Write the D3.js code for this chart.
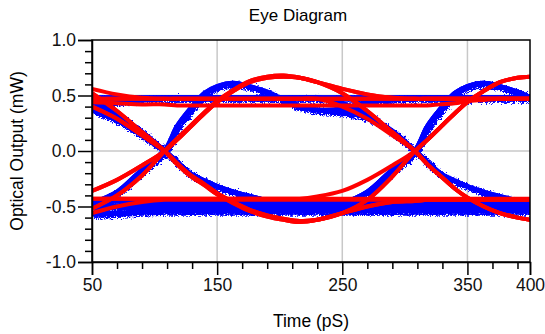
<!DOCTYPE html>
<html>
<head>
<meta charset="utf-8">
<script src="https://cdn.jsdelivr.net/npm/d3@7/dist/d3.min.js"></script>
<style>
  body { margin: 0; background: #fff; }
  svg { display: block; font-family: "Liberation Sans", Arial, sans-serif; }
  .axis path, .axis line { stroke: #000; stroke-width: 1.5; }
  .axis text { font-size: 17.5px; fill: #111; }
  .grid line { stroke: #c8c8c8; stroke-width: 1.5; }
</style>
</head>
<body>
<svg id="chart" width="545" height="334"></svg>
<script>
// sample times (pS) shared by every trace
const times = [50, 70, 90, 108, 118, 128, 140, 150, 163, 176, 190, 203, 216, 230, 250, 270, 290, 308, 318, 328, 340, 350, 363, 376, 390, 400];

// blue (noisy) traces, mW, one value per sample time
const blueRiseHold  = [-0.47, -0.37, -0.17, 0, 0.22, 0.37, 0.52, 0.58, 0.61, 0.58, 0.53, 0.46, 0.40, 0.37, 0.38, 0.44, 0.47, 0.48, 0.48, 0.48, 0.48, 0.48, 0.48, 0.48, 0.48, 0.48];
const blueRiseFall  = [-0.47, -0.37, -0.17, 0, 0.22, 0.37, 0.52, 0.58, 0.61, 0.58, 0.53, 0.46, 0.40, 0.37, 0.35, 0.30, 0.18, 0, -0.10, -0.20, -0.27, -0.32, -0.37, -0.41, -0.45, -0.47];
const blueFallHold  = [0.43, 0.33, 0.17, 0, -0.10, -0.20, -0.27, -0.32, -0.37, -0.41, -0.45, -0.48, -0.50, -0.50, -0.50, -0.50, -0.50, -0.50, -0.50, -0.50, -0.50, -0.50, -0.50, -0.50, -0.50, -0.50];
const blueFallRise  = [0.43, 0.33, 0.17, 0, -0.10, -0.20, -0.27, -0.32, -0.37, -0.41, -0.45, -0.48, -0.50, -0.50, -0.47, -0.37, -0.17, 0, 0.22, 0.37, 0.52, 0.58, 0.61, 0.58, 0.53, 0.48];
const bluePulseHold = [0.37, 0.28, 0.14, 0, -0.10, -0.20, -0.27, -0.32, -0.37, -0.41, -0.45, -0.48, -0.50, -0.50, -0.50, -0.50, -0.50, -0.50, -0.50, -0.50, -0.50, -0.50, -0.50, -0.50, -0.50, -0.50];
const bluePulseRise = [0.37, 0.28, 0.14, 0, -0.10, -0.20, -0.27, -0.32, -0.37, -0.41, -0.45, -0.48, -0.50, -0.50, -0.47, -0.37, -0.17, 0, 0.22, 0.37, 0.52, 0.58, 0.61, 0.58, 0.53, 0.48];
const blueHigh      = [0.48, 0.48, 0.48, 0.48, 0.48, 0.48, 0.48, 0.48, 0.48, 0.48, 0.48, 0.48, 0.48, 0.48, 0.48, 0.48, 0.48, 0.48, 0.48, 0.48, 0.48, 0.48, 0.48, 0.48, 0.48, 0.48];
const blueUnderHigh = [0.38, 0.44, 0.47, 0.48, 0.48, 0.48, 0.48, 0.48, 0.48, 0.48, 0.48, 0.48, 0.48, 0.48, 0.48, 0.48, 0.48, 0.48, 0.48, 0.48, 0.48, 0.48, 0.48, 0.48, 0.48, 0.48];
const blueHighFall  = [0.48, 0.48, 0.48, 0.48, 0.48, 0.48, 0.48, 0.48, 0.48, 0.48, 0.48, 0.48, 0.48, 0.48, 0.43, 0.33, 0.17, 0, -0.10, -0.20, -0.27, -0.32, -0.37, -0.41, -0.45, -0.47];
const blueLow       = [-0.50, -0.50, -0.50, -0.50, -0.50, -0.50, -0.50, -0.50, -0.50, -0.50, -0.50, -0.50, -0.50, -0.50, -0.50, -0.50, -0.50, -0.50, -0.50, -0.50, -0.50, -0.50, -0.50, -0.50, -0.50, -0.50];
const blueLowUpper  = [-0.45, -0.45, -0.46, -0.46, -0.46, -0.46, -0.46, -0.46, -0.46, -0.46, -0.46, -0.46, -0.46, -0.46, -0.46, -0.46, -0.46, -0.46, -0.46, -0.46, -0.46, -0.46, -0.46, -0.46, -0.46, -0.46];
const blueLowLower  = [-0.57, -0.56, -0.55, -0.54, -0.54, -0.54, -0.54, -0.54, -0.54, -0.54, -0.54, -0.54, -0.54, -0.54, -0.54, -0.54, -0.54, -0.54, -0.54, -0.54, -0.54, -0.54, -0.54, -0.54, -0.54, -0.54];
const blueLowRise   = [-0.50, -0.50, -0.50, -0.50, -0.50, -0.50, -0.50, -0.50, -0.50, -0.50, -0.50, -0.50, -0.50, -0.50, -0.47, -0.37, -0.17, 0, 0.22, 0.37, 0.52, 0.58, 0.61, 0.58, 0.53, 0.48];

// red (smooth) traces
const redRiseHold      = [-0.36, -0.26, -0.13, 0, 0.10, 0.21, 0.34, 0.44, 0.54, 0.62, 0.66, 0.67, 0.66, 0.62, 0.56, 0.51, 0.48, 0.47, 0.47, 0.47, 0.47, 0.47, 0.47, 0.47, 0.47, 0.47];
const redRiseFall      = [-0.36, -0.26, -0.13, 0, 0.10, 0.21, 0.34, 0.44, 0.54, 0.62, 0.66, 0.67, 0.66, 0.62, 0.52, 0.36, 0.17, 0, -0.12, -0.22, -0.34, -0.42, -0.50, -0.56, -0.60, -0.62];
const redUnderRiseHold = [-0.52, -0.40, -0.22, 0, 0.11, 0.22, 0.35, 0.45, 0.55, 0.63, 0.67, 0.68, 0.66, 0.62, 0.56, 0.51, 0.48, 0.47, 0.47, 0.47, 0.47, 0.47, 0.47, 0.47, 0.47, 0.47];
const redUnderRiseFall = [-0.52, -0.40, -0.22, 0, 0.11, 0.22, 0.35, 0.45, 0.55, 0.63, 0.67, 0.68, 0.66, 0.62, 0.52, 0.36, 0.17, 0, -0.12, -0.22, -0.34, -0.42, -0.50, -0.56, -0.60, -0.62];
const redFallHold      = [0.40, 0.29, 0.14, 0, -0.11, -0.21, -0.30, -0.38, -0.46, -0.53, -0.58, -0.61, -0.63, -0.62, -0.56, -0.50, -0.46, -0.45, -0.44, -0.44, -0.44, -0.44, -0.44, -0.44, -0.44, -0.44];
const redFallRise      = [0.40, 0.29, 0.14, 0, -0.11, -0.21, -0.30, -0.38, -0.46, -0.53, -0.58, -0.61, -0.63, -0.62, -0.56, -0.44, -0.23, 0, 0.10, 0.21, 0.34, 0.44, 0.54, 0.62, 0.66, 0.67];
const redOverFallHold  = [0.52, 0.36, 0.17, 0, -0.12, -0.22, -0.31, -0.39, -0.47, -0.54, -0.59, -0.62, -0.64, -0.62, -0.56, -0.50, -0.46, -0.45, -0.44, -0.44, -0.44, -0.44, -0.44, -0.44, -0.44, -0.44];
const redOverFallRise  = [0.52, 0.36, 0.17, 0, -0.12, -0.22, -0.31, -0.39, -0.47, -0.54, -0.59, -0.62, -0.64, -0.62, -0.56, -0.44, -0.23, 0, 0.10, 0.21, 0.34, 0.44, 0.54, 0.62, 0.66, 0.67];
const redHigh          = [0.47, 0.47, 0.47, 0.47, 0.47, 0.47, 0.47, 0.47, 0.47, 0.47, 0.47, 0.47, 0.47, 0.47, 0.47, 0.47, 0.47, 0.47, 0.47, 0.47, 0.47, 0.47, 0.47, 0.47, 0.47, 0.47];
const redDecayHigh     = [0.56, 0.51, 0.48, 0.47, 0.47, 0.47, 0.47, 0.47, 0.47, 0.47, 0.47, 0.47, 0.47, 0.47, 0.47, 0.47, 0.47, 0.47, 0.47, 0.47, 0.47, 0.47, 0.47, 0.47, 0.47, 0.47];
const redHighFall      = [0.47, 0.47, 0.47, 0.47, 0.47, 0.47, 0.47, 0.47, 0.47, 0.47, 0.47, 0.47, 0.47, 0.47, 0.40, 0.29, 0.14, 0, -0.12, -0.22, -0.34, -0.42, -0.50, -0.56, -0.60, -0.62];
const redLow           = [-0.43, -0.43, -0.43, -0.43, -0.43, -0.43, -0.43, -0.43, -0.43, -0.43, -0.43, -0.43, -0.43, -0.43, -0.43, -0.43, -0.43, -0.43, -0.43, -0.43, -0.43, -0.43, -0.43, -0.43, -0.43, -0.43];
const redDecayLow      = [-0.56, -0.50, -0.46, -0.44, -0.44, -0.44, -0.44, -0.44, -0.44, -0.44, -0.44, -0.44, -0.44, -0.44, -0.44, -0.44, -0.44, -0.44, -0.44, -0.44, -0.44, -0.44, -0.44, -0.44, -0.44, -0.44];
const redLowRise       = [-0.43, -0.43, -0.43, -0.43, -0.43, -0.43, -0.43, -0.43, -0.43, -0.43, -0.43, -0.43, -0.43, -0.41, -0.36, -0.26, -0.13, 0, 0.10, 0.21, 0.34, 0.44, 0.54, 0.62, 0.66, 0.67];
const redThinHigh      = [0.44, 0.43, 0.42, 0.42, 0.41, 0.41, 0.41, 0.41, 0.41, 0.41, 0.41, 0.41, 0.41, 0.41, 0.41, 0.41, 0.41, 0.41, 0.41, 0.42, 0.43, 0.45, 0.46, 0.47, 0.47, 0.47];

// axis ticks
const xMajorTicks = [50, 150, 250, 350, 400];
const xMinorTicks = [70, 90, 110, 130, 170, 190, 210, 230, 270, 290, 310, 330, 370, 390];
const yMajorTicks = [-1.0, -0.5, 0.0, 0.5, 1.0];
const yMinorTicks = [-0.9, -0.8, -0.7, -0.6, -0.4, -0.3, -0.2, -0.1, 0.1, 0.2, 0.3, 0.4, 0.6, 0.7, 0.8, 0.9];
const xGrid = [150, 250, 350];
const yGrid = [-0.5, 0.0, 0.5];

const blueTraces = [blueLow, blueLowUpper, blueLowLower, blueHigh, blueUnderHigh,
  blueRiseHold, blueRiseFall, blueFallHold, blueFallRise, bluePulseHold, bluePulseRise,
  blueHighFall, blueLowRise];
const redTraces = [redLow, redDecayLow, redHigh, redDecayHigh, redThinHigh,
  redRiseHold, redRiseFall, redUnderRiseHold, redUnderRiseFall,
  redFallHold, redFallRise, redOverFallHold, redOverFallRise,
  redHighFall, redLowRise];

const margin = {top: 40, right: 15, bottom: 72, left: 92};
const width = 545 - margin.left - margin.right;
const height = 334 - margin.top - margin.bottom;

const svg = d3.select('#chart');

// turbulence displacement gives the blue traces their ragged edges
const defs = svg.append('defs');
const jitter = defs.append('filter').attr('id', 'jitter')
  .attr('x', '-2%').attr('y', '-5%').attr('width', '104%').attr('height', '110%');
jitter.append('feTurbulence')
  .attr('type', 'turbulence').attr('baseFrequency', '0.9 0.6')
  .attr('numOctaves', 2).attr('seed', 4).attr('result', 'noise');
jitter.append('feDisplacementMap')
  .attr('in', 'SourceGraphic').attr('in2', 'noise')
  .attr('scale', 7).attr('xChannelSelector', 'R').attr('yChannelSelector', 'G');

defs.append('clipPath').attr('id', 'plotClip')
  .append('rect').attr('width', width).attr('height', height);

const g = svg.append('g')
  .attr('transform', 'translate(' + margin.left + ',' + margin.top + ')');

const x = d3.scaleLinear().domain([50, 400]).range([0, width]);
const y = d3.scaleLinear().domain([-1, 1]).range([height, 0]);

// grid
g.append('g').attr('class', 'grid')
  .selectAll('line').data(xGrid).join('line')
  .attr('x1', d => x(d)).attr('x2', d => x(d))
  .attr('y1', 0).attr('y2', height);
g.append('g').attr('class', 'grid')
  .selectAll('line').data(yGrid).join('line')
  .attr('x1', 0).attr('x2', width)
  .attr('y1', d => y(d)).attr('y2', d => y(d));

const line = d3.line()
  .x((d, i) => x(times[i]))
  .y(d => y(d))
  .curve(d3.curveCatmullRom.alpha(0.5));

const traces = g.append('g').attr('clip-path', 'url(#plotClip)');

// solid core plus a jittered copy for the noise
traces.append('g')
  .selectAll('path').data(blueTraces).join('path')
  .attr('d', line)
  .attr('fill', 'none')
  .attr('stroke', '#0000ff')
  .attr('stroke-width', 5);
traces.append('g')
  .attr('filter', 'url(#jitter)')
  .selectAll('path').data(blueTraces).join('path')
  .attr('d', line)
  .attr('fill', 'none')
  .attr('stroke', '#0000ff')
  .attr('stroke-width', 5.5);

traces.append('g')
  .selectAll('path').data(redTraces).join('path')
  .attr('d', line)
  .attr('fill', 'none')
  .attr('stroke', '#ff0000')
  .attr('stroke-width', 4);

// frame
g.append('rect')
  .attr('width', width).attr('height', height)
  .attr('fill', 'none').attr('stroke', '#000').attr('stroke-width', 1.5);

const fmt = d => d3.format('.1f')(d).replace('\u2212', '-');

// axes: major ticks with labels, minor ticks without
g.append('g').attr('class', 'axis')
  .attr('transform', 'translate(0,' + height + ')')
  .call(d3.axisBottom(x).tickValues(xMajorTicks).tickSize(13).tickPadding(4).tickFormat(d3.format('d')));
g.append('g').attr('class', 'axis')
  .attr('transform', 'translate(0,' + height + ')')
  .call(d3.axisBottom(x).tickValues(xMinorTicks).tickSize(7).tickFormat(''))
  .select('.domain').remove();

g.append('g').attr('class', 'axis')
  .call(d3.axisLeft(y).tickValues(yMajorTicks).tickSize(14).tickPadding(2).tickFormat(fmt));
g.append('g').attr('class', 'axis')
  .call(d3.axisLeft(y).tickValues(yMinorTicks).tickSize(7).tickFormat(''))
  .select('.domain').remove();

// titles
svg.append('text')
  .attr('x', 298).attr('y', 21)
  .attr('text-anchor', 'middle')
  .style('font-size', '17px')
  .text('Eye Diagram');

svg.append('text')
  .attr('x', margin.left + width / 2).attr('y', 327)
  .attr('text-anchor', 'middle')
  .style('font-size', '17.5px')
  .text('Time (pS)');

svg.append('text')
  .attr('transform', 'translate(23,' + (margin.top + height / 2) + ') rotate(-90)')
  .attr('text-anchor', 'middle')
  .style('font-size', '17.5px')
  .text('Optical Output (mW)');
</script>
</body>
</html>
